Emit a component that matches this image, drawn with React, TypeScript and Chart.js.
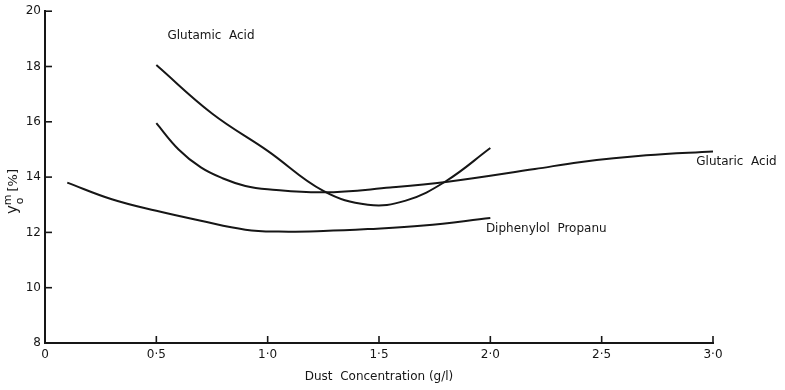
import React, { useEffect, useRef } from "react";
import { Chart, registerables } from "chart.js";

Chart.register(...registerables);

// ---- data ----
const glutamicX = [0.5, 0.75, 1.0, 1.25, 1.45, 1.62, 1.8, 2.0];
const glutamicY = [18.05, 16.3, 14.95, 13.5, 13.0, 13.15, 13.85, 15.05];

const glutaricX = [0.5, 0.6, 0.7, 0.8, 0.9, 1.0, 1.25, 1.55, 1.8, 2.2, 2.4, 2.7, 3.0];
const glutaricY = [15.95, 15.0, 14.35, 13.95, 13.68, 13.56, 13.45, 13.62, 13.82, 14.29, 14.54, 14.79, 14.93];

const diphenylolX = [0.1, 0.3, 0.5, 0.7, 0.9, 1.05, 1.25, 1.45, 1.7, 2.0];
const diphenylolY = [13.8, 13.2, 12.78, 12.42, 12.1, 12.03, 12.05, 12.12, 12.25, 12.52];

const xTickValues = [0, 0.5, 1.0, 1.5, 2.0, 2.5, 3.0];
const xTickLabels = ["0", "0·5", "1·0", "1·5", "2·0", "2·5", "3·0"];

const seriesLabels = ["Glutamic  Acid", "Glutaric  Acid", "Diphenylol  Propanu"];
// label anchors in data coordinates (x, y)
const labelAnchorX = [0.55, 2.925, 1.98];
const labelAnchorY = [19.1, 14.54, 12.12];

const xTitle = "Dust  Concentration (g/l)";

const INK = "#161616";
const FONT = "'DejaVu Sans', sans-serif";

const toPoints = (xs: number[], ys: number[]) => xs.map((x, i) => ({ x, y: ys[i] }));

const annotate = {
  id: "annotate",
  afterDraw(chart: any) {
    const { ctx, chartArea, scales } = chart;
    const xs = scales.x;
    const ys = scales.y;
    ctx.save();
    // inward tick marks
    ctx.strokeStyle = INK;
    ctx.lineWidth = 1.6;
    xs.ticks.forEach((t: any) => {
      if (t.value === 0) return;
      const px = xs.getPixelForValue(t.value);
      ctx.beginPath();
      ctx.moveTo(px, chartArea.bottom);
      ctx.lineTo(px, chartArea.bottom - 7);
      ctx.stroke();
    });
    ys.ticks.forEach((t: any) => {
      if (t.value === 8) return;
      const py = ys.getPixelForValue(t.value);
      ctx.beginPath();
      ctx.moveTo(chartArea.left, py);
      ctx.lineTo(chartArea.left + 7, py);
      ctx.stroke();
    });

    // curve labels
    ctx.fillStyle = INK;
    ctx.font = `12px ${FONT}`;
    ctx.textAlign = "left";
    ctx.textBaseline = "middle";
    seriesLabels.forEach((s, i) => {
      ctx.fillText(s, xs.getPixelForValue(labelAnchorX[i]), ys.getPixelForValue(labelAnchorY[i]));
    });

    // y-axis title: y with superscript m and subscript o, then [%]
    const cy = (chartArea.top + chartArea.bottom) / 2 + 11;
    ctx.translate(14, cy);
    ctx.rotate(-Math.PI / 2);
    ctx.textBaseline = "alphabetic";
    let x = -26;
    ctx.font = `15px ${FONT}`;
    ctx.fillText("y", x, 3);
    x += ctx.measureText("y").width;
    ctx.font = `11px ${FONT}`;
    ctx.fillText("m", x, -3);
    ctx.fillText("o", x + 1, 9);
    x += ctx.measureText("m").width + 3;
    ctx.font = `13px ${FONT}`;
    ctx.fillText("[%]", x, 3);
    ctx.restore();
  },
};

export default function App() {
  const ref = useRef<HTMLCanvasElement>(null);

  useEffect(() => {
    if (!ref.current) return;
    const lineDs = (label: string, xs: number[], ys: number[]) => ({
      label,
      data: toPoints(xs, ys),
      borderColor: INK,
      borderWidth: 2,
      pointRadius: 0,
      tension: 0.4,
      fill: false,
    });
    const chart = new Chart(ref.current, {
      type: "line",
      data: {
        datasets: [
          lineDs(seriesLabels[0], glutamicX, glutamicY),
          lineDs(seriesLabels[1], glutaricX, glutaricY),
          lineDs(seriesLabels[2], diphenylolX, diphenylolY),
        ],
      },
      options: {
        responsive: false,
        animation: false,
        layout: { padding: { left: 0, right: 72, top: 10, bottom: 0 } },
        plugins: { legend: { display: false }, tooltip: { enabled: false } },
        scales: {
          x: {
            type: "linear",
            min: 0,
            max: 3,
            afterBuildTicks: (s: any) => {
              s.ticks = xTickValues.map((v) => ({ value: v }));
            },
            afterFit: (s: any) => {
              s.height = 47;
            },
            grid: { display: false, drawTicks: false },
            border: { display: true, color: INK, width: 2 },
            ticks: {
              color: INK,
              font: { family: FONT, size: 12 },
              padding: 5,
              maxRotation: 0,
              autoSkip: false,
              callback: (v: any) => {
                const i = xTickValues.indexOf(Number(v));
                return i >= 0 ? xTickLabels[i] : "";
              },
            },
            title: {
              display: true,
              text: xTitle,
              color: INK,
              font: { family: FONT, size: 12 },
              padding: { top: 0, bottom: 6 },
            },
          },
          y: {
            type: "linear",
            min: 8,
            max: 20,
            afterFit: (s: any) => {
              s.width = 45;
            },
            grid: { display: false, drawTicks: false },
            border: { display: true, color: INK, width: 2 },
            ticks: {
              stepSize: 2,
              color: INK,
              font: { family: FONT, size: 12 },
              padding: 4,
            },
          },
        },
      },
      plugins: [annotate],
    });
    return () => chart.destroy();
  }, []);

  return (
    <div style={{ position: "absolute", left: 0, top: 0, width: 785, height: 390, background: "#fff" }}>
      <canvas ref={ref} width={785} height={390} style={{ display: "block" }} />
    </div>
  );
}
